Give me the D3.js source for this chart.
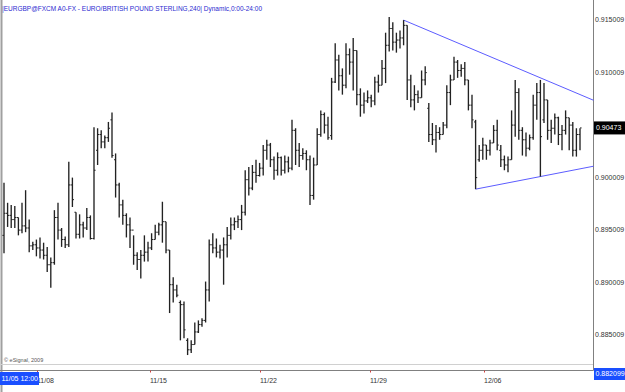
<!DOCTYPE html>
<html><head><meta charset="utf-8">
<script src="https://cdn.jsdelivr.net/npm/d3@7"></script>
<style>body{margin:0;background:#fff}svg{display:block}</style>
</head><body>
<svg id="c" width="625" height="392"></svg>
<script>
const openP = [
0.8945,0.8966,0.8964,0.8960,0.8962,0.8950,0.8954,0.8952,0.8935,0.8936,
0.8933,0.8931,0.8926,0.8917,0.8919,0.8962,0.8950,0.8941,0.8936,0.8993,
0.8967,0.8946,0.8955,0.8952,0.8962,0.8942,0.9026,0.9041,0.9034,0.9038,
0.9055,0.9017,0.8993,0.8974,0.8964,0.8955,0.8950,0.8926,0.8922,0.8926,
0.8929,0.8933,0.8941,0.8948,0.8955,0.8958,0.8931,0.8898,0.8893,0.8881,
0.8879,0.8845,0.8836,0.8841,0.8853,0.8860,0.8864,0.8893,0.8936,0.8933,
0.8929,0.8931,0.8936,0.8945,0.8955,0.8958,0.8960,0.8967,0.8998,0.8990,
0.9005,0.9002,0.9009,0.9026,0.9031,0.9017,0.9007,0.9019,0.9007,0.9015,
0.9009,0.9045,0.9026,0.9021,0.9023,0.9017,0.8983,0.9012,0.9041,0.9060,
0.9050,0.9040,0.9091,0.9112,0.9097,0.9088,0.9117,0.9110,0.9121,0.9079,
0.9069,0.9073,0.9076,0.9073,0.9091,0.9088,0.9104,0.9126,0.9142,0.9129,
0.9131,0.9133,0.9145,0.9093,0.9074,0.9079,0.9076,0.9093,0.9066,0.9041,
0.9036,0.9043,0.9041,0.9050,0.9081,0.9093,0.9110,0.9102,0.9104,0.9093,
0.9069,0.9053,0.9017,0.9026,0.9031,0.9026,0.9033,0.9045,0.9026,0.9017,
0.9012,0.9017,0.9050,0.9081,0.9045,0.9036,0.9028,0.9038,0.9069,0.9081,
0.9055,0.9074,0.9045,0.9047,0.9057,0.9041,0.9045,0.9057,0.9050,0.9026,0.9041];
const highP = [
0.8995,0.8976,0.8974,0.8973,0.8962,0.8976,0.8988,0.8960,0.8939,0.8941,
0.8943,0.8938,0.8934,0.8924,0.8969,0.8976,0.8952,0.8944,0.9015,0.9000,
0.8967,0.8965,0.8958,0.8971,0.8964,0.9048,0.9047,0.9045,0.9040,0.9053,
0.9062,0.9023,0.8995,0.8979,0.8966,0.8962,0.8945,0.8929,0.8931,0.8945,
0.8939,0.8947,0.8955,0.8957,0.8977,0.8958,0.8931,0.8905,0.8898,0.8883,
0.8882,0.8847,0.8845,0.8862,0.8864,0.8866,0.8901,0.8941,0.8947,0.8942,
0.8936,0.8943,0.8953,0.8962,0.8962,0.8964,0.8974,0.9007,0.9010,0.9012,
0.9017,0.9014,0.9031,0.9036,0.9033,0.9020,0.9024,0.9020,0.9021,0.9020,
0.9055,0.9047,0.9033,0.9028,0.9026,0.9021,0.9019,0.9047,0.9064,0.9062,
0.9058,0.9095,0.9128,0.9117,0.9104,0.9128,0.9123,0.9133,0.9121,0.9085,
0.9081,0.9083,0.9079,0.9096,0.9098,0.9112,0.9138,0.9153,0.9148,0.9138,
0.9140,0.9150,0.9145,0.9098,0.9088,0.9083,0.9102,0.9106,0.9071,0.9052,
0.9050,0.9048,0.9053,0.9088,0.9098,0.9115,0.9112,0.9108,0.9110,0.9093,
0.9079,0.9055,0.9031,0.9038,0.9031,0.9036,0.9050,0.9055,0.9031,0.9021,
0.9020,0.9064,0.9093,0.9085,0.9048,0.9043,0.9041,0.9079,0.9090,0.9093,
0.9090,0.9074,0.9055,0.9061,0.9058,0.9050,0.9064,0.9057,0.9053,0.9047,0.9047];
const lowP = [
0.8928,0.8953,0.8952,0.8952,0.8945,0.8947,0.8948,0.8929,0.8931,0.8925,
0.8923,0.8922,0.8910,0.8895,0.8917,0.8941,0.8934,0.8933,0.8934,0.8972,
0.8942,0.8942,0.8943,0.8950,0.8941,0.8941,0.9012,0.9028,0.9028,0.9034,
0.9019,0.8981,0.8962,0.8955,0.8943,0.8933,0.8917,0.8912,0.8904,0.8920,
0.8920,0.8931,0.8941,0.8945,0.8938,0.8928,0.8871,0.8881,0.8886,0.8845,
0.8847,0.8831,0.8833,0.8841,0.8852,0.8858,0.8862,0.8882,0.8928,0.8924,
0.8923,0.8898,0.8924,0.8941,0.8950,0.8952,0.8950,0.8964,0.8983,0.8988,
0.8995,0.9001,0.9002,0.9017,0.9010,0.8998,0.9002,0.9002,0.9004,0.9005,
0.9007,0.9012,0.9010,0.9017,0.9007,0.8974,0.8979,0.9012,0.9039,0.9042,
0.9036,0.9036,0.9090,0.9083,0.9079,0.9085,0.9098,0.9083,0.9069,0.9058,
0.9061,0.9071,0.9067,0.9069,0.9081,0.9088,0.9090,0.9120,0.9121,0.9119,
0.9123,0.9126,0.9074,0.9067,0.9064,0.9071,0.9076,0.9088,0.9034,0.9031,
0.9024,0.9036,0.9041,0.9047,0.9069,0.9093,0.9095,0.9096,0.9088,0.9064,
0.9047,0.8989,0.9015,0.9017,0.9017,0.9021,0.9033,0.9026,0.9010,0.9007,
0.9005,0.9017,0.9039,0.9036,0.9021,0.9020,0.9026,0.9036,0.9055,0.9001,
0.9052,0.9036,0.9033,0.9041,0.9031,0.9026,0.9041,0.9026,0.9020,0.9020,0.9026];
const closeP = [
0.8966,0.8964,0.8960,0.8962,0.8950,0.8954,0.8952,0.8935,0.8936,0.8933,
0.8931,0.8926,0.8917,0.8919,0.8962,0.8950,0.8941,0.8936,0.8993,0.8979,
0.8946,0.8955,0.8952,0.8962,0.8942,0.9007,0.9041,0.9034,0.9038,0.9047,
0.9021,0.8993,0.8974,0.8964,0.8955,0.8950,0.8926,0.8922,0.8926,0.8929,
0.8933,0.8941,0.8948,0.8955,0.8958,0.8931,0.8898,0.8893,0.8888,0.8879,
0.8855,0.8836,0.8841,0.8853,0.8860,0.8864,0.8893,0.8936,0.8933,0.8929,
0.8931,0.8936,0.8945,0.8955,0.8958,0.8960,0.8967,0.8998,0.8990,0.9005,
0.9002,0.9009,0.9026,0.9031,0.9017,0.9007,0.9019,0.9007,0.9015,0.9009,
0.9045,0.9026,0.9021,0.9023,0.9017,0.8983,0.9012,0.9041,0.9060,0.9050,
0.9038,0.9091,0.9112,0.9097,0.9088,0.9117,0.9110,0.9121,0.9079,0.9069,
0.9073,0.9076,0.9073,0.9091,0.9088,0.9104,0.9126,0.9142,0.9129,0.9131,
0.9133,0.9145,0.9093,0.9074,0.9079,0.9076,0.9093,0.9100,0.9041,0.9036,
0.9043,0.9041,0.9050,0.9081,0.9093,0.9110,0.9102,0.9104,0.9093,0.9069,
0.9055,0.9000,0.9026,0.9031,0.9026,0.9033,0.9045,0.9031,0.9017,0.9012,
0.9017,0.9050,0.9081,0.9045,0.9036,0.9028,0.9038,0.9069,0.9081,0.9039,
0.9074,0.9045,0.9047,0.9057,0.9041,0.9045,0.9057,0.9050,0.9026,0.9041,0.90473];

const priceTicks = [0.915009,0.910009,0.905009,0.900009,0.895009,0.890009,0.885009];
const dateTickIdx = [9.2,40.6,71.1,101.8,133.3];
const dateTickLabels = ["11/08","11/15","11/22","11/29","12/06"];
const firstBarLabel = "11/05 12:00";
const lastPrice = 0.90473;
const bottomPrice = 0.882099;
const upperTrend = [[111,0.9150],[149,0.9095]];
const lowerTrend = [[131,0.8989],[149,0.9001]];
const titleText = "|EURGBP@FXCM A0-FX - EURO/BRITISH POUND STERLING,240| Dynamic,0:00-24:00";

const svg = d3.select("#c");
const W = 625, H = 392;
const plotRight = 593.5, plotBottom = 370.5;
const n = openP.length;
const x = d3.scaleLinear().domain([0, n-1]).range([4, 580]);
const y = d3.scaleLinear().domain([0.915009, 0.885009]).range([20, 335]);
const font = "'Liberation Sans', Arial, sans-serif";

svg.append("rect").attr("width",W).attr("height",H).attr("fill","#fff");

// title
svg.append("text").attr("x",2).attr("y",11).attr("font-family",font).attr("font-size",8)
  .attr("fill","#2a2ad0").attr("textLength",260).attr("lengthAdjust","spacingAndGlyphs").text(titleText);

// frame
svg.append("line").attr("x1",1.5).attr("x2",1.5).attr("y1",0).attr("y2",H).attr("stroke","#a0a0a0").attr("stroke-width",2);
svg.append("line").attr("x1",0).attr("x2",plotRight).attr("y1",364.5).attr("y2",364.5).attr("stroke","#d0d0d0");
svg.append("line").attr("x1",0).attr("x2",plotRight).attr("y1",plotBottom).attr("y2",plotBottom).attr("stroke","#808080");
svg.append("line").attr("x1",plotRight).attr("x2",plotRight).attr("y1",0).attr("y2",plotBottom).attr("stroke","#808080");

// copyright
svg.append("text").attr("x",4).attr("y",362).attr("font-family",font).attr("font-size",5.5).attr("fill","#555").text("\u00a9 eSignal, 2009");

// trend lines (extended to right edge)
const idxRight = x.invert(plotRight);
function trendLine(tr){
  const [i0,p0] = tr[0], [i1,p1] = tr[1];
  const pR = p0 + (p1-p0)*(idxRight-i0)/(i1-i0);
  return [[i0,p0],[idxRight,pR]];
}
const lineGen = d3.line().x(d=>x(d[0])).y(d=>y(d[1]));
[upperTrend, lowerTrend].forEach(tr=>{
  svg.append("path").attr("d", lineGen(trendLine(tr))).attr("stroke","#5c5cff").attr("stroke-width",1).attr("fill","none");
});

// OHLC bars
const bars = svg.append("g").attr("stroke","#222").attr("stroke-width",1.35);
d3.range(n).forEach(i=>{
  const cx = x(i);
  bars.append("line").attr("x1",cx).attr("x2",cx).attr("y1",y(highP[i])).attr("y2",y(lowP[i]));
  bars.append("line").attr("x1",cx-1.6).attr("x2",cx).attr("y1",y(openP[i])).attr("y2",y(openP[i])).attr("stroke-width",1);
  bars.append("line").attr("x1",cx).attr("x2",cx+1.6).attr("y1",y(closeP[i])).attr("y2",y(closeP[i])).attr("stroke-width",1);
});

// right price axis labels (the one under the last-price box is hidden, as in the reference)
const ay = svg.append("g");
priceTicks.filter(p => Math.abs(y(p) - y(lastPrice)) > 8).forEach(p=>{
  ay.append("text").attr("x",595).attr("y",y(p)).attr("dy","0.35em").attr("font-family",font)
    .attr("font-size",7).attr("fill","#333").text(p.toFixed(6));
});
// last price box
ay.append("rect").attr("x",594).attr("y",y(lastPrice)-6.5).attr("width",31).attr("height",13).attr("fill","#000");
ay.append("text").attr("x",596).attr("y",y(lastPrice)).attr("dy","0.35em").attr("font-family",font)
  .attr("font-size",7).attr("fill","#fff").text(lastPrice.toFixed(5));
// bottom price box
ay.append("rect").attr("x",594).attr("y",368).attr("width",31).attr("height",12).attr("fill","#1a4fff");
ay.append("text").attr("x",595.5).attr("y",374).attr("dy","0.35em").attr("font-family",font)
  .attr("font-size",7).attr("fill","#fff").text(bottomPrice.toFixed(6));

// bottom date axis
const ax = svg.append("g");
dateTickIdx.forEach((d,k)=>{
  const tx = Math.round(x(d));
  ax.append("line").attr("x1",tx+0.5).attr("x2",tx+0.5).attr("y1",plotBottom).attr("y2",plotBottom+2).attr("stroke","#d04040");
  ax.append("text").attr("x",tx).attr("y",381).attr("dy","0.35em").attr("font-family",font)
    .attr("font-size",7).attr("fill","#333").text(dateTickLabels[k]);
});
ax.append("rect").attr("x",0).attr("y",372).attr("width",39).attr("height",13).attr("fill","#1a4fff");
ax.append("text").attr("x",1.5).attr("y",378.5).attr("dy","0.35em").attr("font-family",font)
  .attr("font-size",7).attr("fill","#fff").text(firstBarLabel);
</script>
</body></html>
